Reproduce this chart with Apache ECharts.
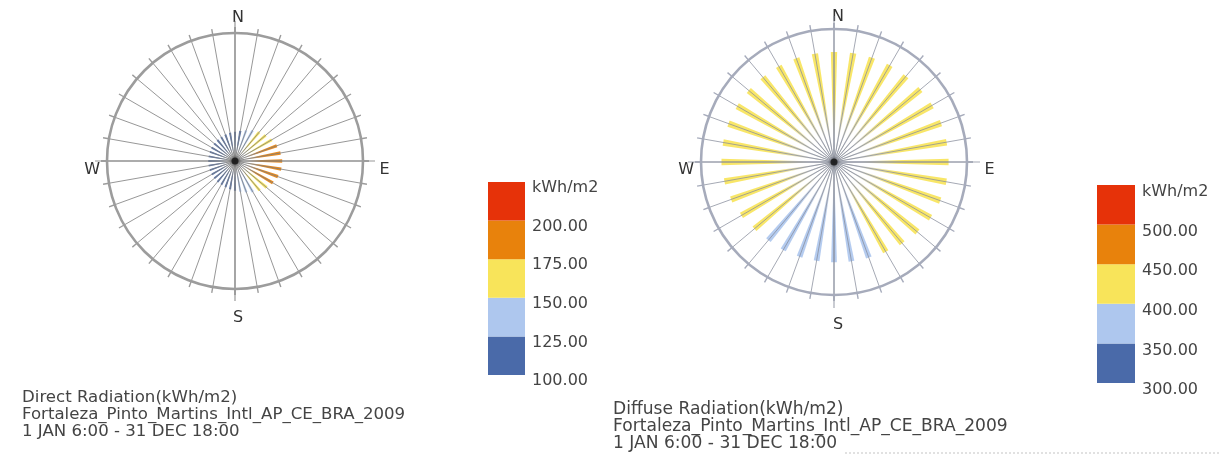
<!DOCTYPE html>
<html><head><meta charset="utf-8">
<script src="https://cdn.jsdelivr.net/npm/echarts@6/dist/echarts.min.js"></script>
<style>html,body{margin:0;padding:0;background:#fff}#c{width:1221px;height:457px}</style>
</head><body><div id="c"></div>
<script>
// ---------------- data ----------------
const directionDegrees = [0,10,20,30,40,50,60,70,80,90,100,110,120,130,140,150,160,170,180,190,200,210,220,230,240,250,260,270,280,290,300,310,320,330,340,350];
const directValues = [118,124,132,142,152,162,172,180,187,191,190,185,177,167,155,144,134,126,120,116,113,111,110,109,108,108,108,108,108,108,109,110,111,112,114,116];
const diffuseValues = [430,432,434,436,438,441,443,445,447,448,446,442,436,426,415,405,398,394,392,392,394,397,399,406,418,428,435,440,440,439,437,435,433,432,431,430];
const directBins = [100,125,150,175,200,225];
const diffuseBins = [300,350,400,450,500,550];
const binColors = ['#4a6aa9','#aec7ee','#f8e45a','#e8820c','#e63209'];
const unitLabel = 'kWh/m2';
const cardinalLabels = ['N','E','S','W'];
const directTitle = ['Direct Radiation(kWh/m2)','Fortaleza_Pinto_Martins_Intl_AP_CE_BRA_2009','1 JAN 6:00 - 31 DEC 18:00'];
const diffuseTitle = ['Diffuse Radiation(kWh/m2)','Fortaleza_Pinto_Martins_Intl_AP_CE_BRA_2009','1 JAN 6:00 - 31 DEC 18:00'];

// ---------------- layout / style ----------------
const FONT = 'DejaVu Sans';
const panels = [
  {values: directValues, bins: directBins, cx:235, cy:161, R:128, rMax:518, card:140, base:135, bw:'42%',
   ring:'#9c9c9c', spoke:'rgba(125,125,125,0.8)',
   rich:{n:{lineHeight:16,padding:[0,0,0,6]}, s:{lineHeight:44,padding:[0,0,0,6]}, e:{padding:[18,0,0,9.5]}, w:{padding:[18,0,0,0]}},
   legend:{left:488, top:182, width:37, height:193, lh:12}, title:directTitle, tl:22, tt:389, tfs:16.6},
  {values: diffuseValues, bins: diffuseBins, cx:834, cy:162, R:133, rMax:520, card:146, base:140, bw:'33%',
   ring:'#a6abbb', spoke:'rgba(135,140,155,0.75)',
   rich:{n:{lineHeight:10,padding:[0,0,0,8]}, s:{lineHeight:46,padding:[0,0,0,8]}, e:{padding:[16,0,0,10.5]}, w:{padding:[16,0,0,0]}},
   legend:{left:1097, top:185, width:38, height:198, lh:14}, title:diffuseTitle, tl:613, tt:401, tfs:17.1}
];

function binIndex(v, bins){
  for (let i = 0; i < bins.length - 1; i++) if (v < bins[i+1]) return Math.max(0, i);
  return bins.length - 2;
}

const option = {
  backgroundColor:'#fff', animation:false,
  title:[], polar:[], angleAxis:[], radiusAxis:[], grid:[], xAxis:[], yAxis:[], series:[],
  graphic:[{type:'line', shape:{x1:845,y1:453,x2:1221,y2:453}, style:{stroke:'#c4c4c4', lineWidth:1, lineDash:[2,2]}}]
};

panels.forEach((p, k) => {
  const center = [p.cx, p.cy];
  const pi = k*3;
  option.polar.push({center, radius:p.R}, {center, radius:p.R}, {center, radius:p.card});
  // grid polar: ring, ticks, spokes (drawn above the spikes)
  option.angleAxis.push({polarIndex:pi, type:'value', min:0, max:360, interval:10, startAngle:90, clockwise:true, z:5,
    axisLine:{show:true, lineStyle:{color:p.ring, width:2.6}},
    axisTick:{show:true, length:6, lineStyle:{color:p.ring, width:1.4}},
    axisLabel:{show:false}, splitLine:{show:true, lineStyle:{color:p.spoke, width:1}}});
  option.radiusAxis.push({polarIndex:pi, type:'value', min:0, max:1, axisLine:{show:false}, axisTick:{show:false}, axisLabel:{show:false}, splitLine:{show:false}});
  // bar polar
  option.angleAxis.push({polarIndex:pi+1, type:'category', data:directionDegrees.map(String), startAngle:95, clockwise:true,
    axisLine:{show:false}, axisTick:{show:false}, axisLabel:{show:false}, splitLine:{show:false}});
  option.radiusAxis.push({polarIndex:pi+1, type:'value', min:0, max:p.rMax, axisLine:{show:false}, axisTick:{show:false}, axisLabel:{show:false}, splitLine:{show:false}});
  // cardinal polar
  const keys = ['n','e','s','w'];
  const rich = {};
  keys.forEach(key => { rich[key] = Object.assign({fontSize:16, fontFamily:FONT, color:'#333'}, p.rich[key]); });
  option.angleAxis.push({polarIndex:pi+2, type:'value', min:0, max:360, interval:90, startAngle:90, clockwise:true, z:5,
    axisLine:{show:false}, axisTick:{show:false}, splitLine:{show:true, lineStyle:{color:p.spoke, width:1.2}},
    axisLabel:{show:true, margin:p.base - p.card, fontSize:16, fontFamily:FONT, color:'#333', rich,
      formatter:(v)=> v >= 360 ? '' : '{' + keys[v/90] + '|' + cardinalLabels[v/90] + '}'}});
  option.radiusAxis.push({polarIndex:pi+2, type:'value', min:0, max:1, axisLine:{show:false}, axisTick:{show:false}, axisLabel:{show:false}, splitLine:{show:false}});

  // rose spikes
  option.series.push({type:'bar', coordinateSystem:'polar', polarIndex:pi+1, barWidth:p.bw, z:2,
    data: p.values.map(v => {
      const c = binColors[binIndex(v, p.bins)];
      const len = v / p.rMax * p.R;
      return {value:v, itemStyle:{opacity:0.92, color:{type:'radial', x:p.cx, y:p.cy, r:len, global:true,
        colorStops:[{offset:0, color:'rgba(110,115,125,0.8)'},{offset:0.22, color:'rgba(200,202,205,0.75)'},{offset:0.55, color:c},{offset:1, color:c}]}}};
    })});
  // center dot
  option.series.push({type:'scatter', coordinateSystem:'polar', polarIndex:pi, z:10, symbolSize:7,
    itemStyle:{color:'#111', shadowBlur:5, shadowColor:'rgba(0,0,0,0.7)'}, data:[[0,0]], silent:true});

  // legend color bar
  option.grid.push({left:p.legend.left, top:p.legend.top, width:p.legend.width, height:p.legend.height});
  option.xAxis.push({gridIndex:k, type:'value', min:0, max:1, show:false});
  const step = p.bins[1] - p.bins[0];
  option.yAxis.push({gridIndex:k, type:'value', position:'right', min:p.bins[0], max:p.bins[p.bins.length-1], interval:step,
    axisLine:{show:false}, axisTick:{show:false}, splitLine:{show:false},
    axisLabel:{show:true, margin:7, fontSize:16, fontFamily:FONT, color:'#444', verticalAlign:'top', lineHeight:p.legend.lh,
      formatter:(v)=> v === p.bins[p.bins.length-1] ? unitLabel : v.toFixed(2)}});
  option.series.push({type:'custom', xAxisIndex:k, yAxisIndex:k, silent:true,
    data: p.bins.slice(0,-1).map((lo,i)=>[lo, p.bins[i+1], i]),
    renderItem:(params, api)=>{
      const p0 = api.coord([0, api.value(1)]);
      const p1 = api.coord([1, api.value(0)]);
      return {type:'rect', shape:{x:p0[0], y:p0[1], width:p1[0]-p0[0], height:p1[1]-p0[1]}, style:{fill:binColors[api.value(2)]}};
    }});

  option.title.push({text:p.title.join('\n'), left:p.tl, top:p.tt, padding:0,
    textStyle:{fontSize:p.tfs, fontWeight:'normal', fontFamily:FONT, color:'#444', lineHeight:17}});
});

const chart = echarts.init(document.getElementById('c'), null, {renderer:'canvas'});
chart.setOption(option);
</script></body></html>
